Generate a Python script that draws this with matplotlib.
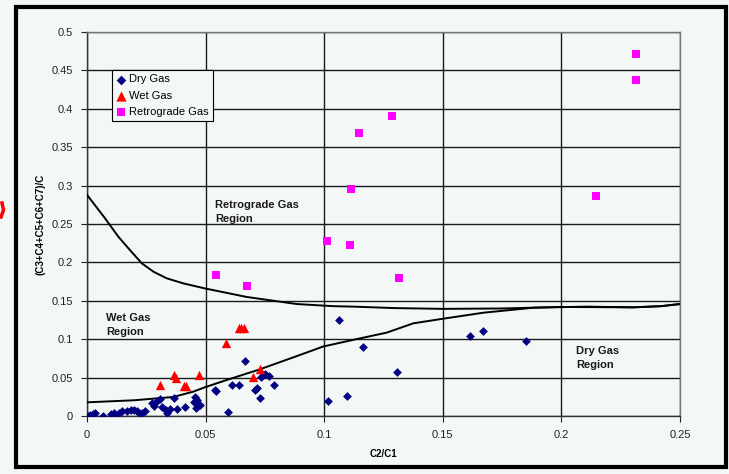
import matplotlib
matplotlib.use("Agg")
from matplotlib import pyplot as plt
from matplotlib.patches import Rectangle
from matplotlib.lines import Line2D

# dados
dry_x = [0.0004, 0.0013, 0.0024, 0.0032, 0.0069, 0.0100, 0.0108, 0.0115, 0.0136, 0.0148,
         0.0170, 0.0184, 0.0198, 0.0210, 0.0218, 0.0232, 0.0246, 0.0274, 0.0283, 0.0294,
         0.0308, 0.0316, 0.0333, 0.0339, 0.0350, 0.0367, 0.0379, 0.0414, 0.0451, 0.0457,
         0.0465, 0.0460, 0.0476, 0.0538, 0.0544, 0.0594, 0.0611, 0.0642, 0.0665, 0.0707,
         0.0716, 0.0729, 0.0732, 0.0742, 0.0752, 0.0766, 0.0788, 0.1016, 0.1062, 0.1095,
         0.1162, 0.1308, 0.1616, 0.1671, 0.1849]
dry_y = [0.0000, 0.0013, 0.0026, 0.0035, 0.0000, 0.0026, 0.0009, 0.0035, 0.0035, 0.0070,
         0.0070, 0.0078, 0.0078, 0.0060, 0.0035, 0.0043, 0.0060, 0.0165, 0.0130, 0.0190,
         0.0217, 0.0120, 0.0078, 0.0043, 0.0087, 0.0234, 0.0087, 0.0113, 0.0187, 0.0252,
         0.0208, 0.0100, 0.0139, 0.0338, 0.0321, 0.0052, 0.0408, 0.0408, 0.0712, 0.0338,
         0.0365, 0.0234, 0.0503, 0.0530, 0.0547, 0.0521, 0.0400, 0.0200, 0.1250, 0.0265,
         0.0903, 0.0569, 0.1037, 0.1103, 0.0977]

wet_x = [0.0306, 0.0365, 0.0375, 0.0409, 0.0417, 0.0474, 0.0586, 0.0640, 0.0650, 0.0662, 0.0701, 0.0729]
wet_y = [0.0400, 0.0530, 0.0490, 0.0395, 0.0395, 0.0530, 0.0946, 0.1146, 0.1146, 0.1150, 0.0512, 0.0608]

retro_x = [0.0545, 0.0673, 0.1013, 0.1107, 0.1112, 0.1147, 0.1286, 0.1314, 0.2145, 0.2315, 0.2315]
retro_y = [0.1836, 0.1697, 0.2275, 0.2222, 0.2952, 0.3680, 0.3906, 0.1793, 0.2865, 0.4375, 0.4710]

upper_x = [0, 0.0076, 0.0132, 0.0181, 0.0231, 0.0280, 0.0336, 0.0406, 0.0496, 0.0673, 0.0884,
           0.1038, 0.1123, 0.1300, 0.1500, 0.1750, 0.1994, 0.2303, 0.2420, 0.2500]
upper_y = [0.288, 0.2574, 0.2335, 0.2161, 0.1988, 0.1879, 0.1793, 0.1727, 0.1662, 0.155, 0.1458,
           0.1430, 0.1424, 0.1405, 0.1395, 0.1400, 0.1420, 0.1415, 0.1430, 0.1458]

lower_x = [0, 0.0200, 0.0364, 0.0448, 0.0496, 0.0589, 0.0729, 0.0898, 0.0996, 0.1151, 0.1263,
           0.1376, 0.1502, 0.1671, 0.1882, 0.2107, 0.2303, 0.2420, 0.2500]
lower_y = [0.0178, 0.0205, 0.0248, 0.0317, 0.0373, 0.0469, 0.0608, 0.0795, 0.0905, 0.1011, 0.1085,
           0.1207, 0.1267, 0.1345, 0.1410, 0.1424, 0.1415, 0.1430, 0.1458]

x_ticks = [0, 0.05, 0.1, 0.15, 0.2, 0.25]
x_labels = ['0', '0.05', '0.1', '0.15', '0.2', '0.25']
y_ticks = [0, 0.05, 0.1, 0.15, 0.2, 0.25, 0.3, 0.35, 0.4, 0.45, 0.5]
y_labels = ['0', '0.05', '0.1', '0.15', '0.2', '0.25', '0.3', '0.35', '0.4', '0.45', '0.5']

fundo = '#f3f8f6'
plt.rcParams['font.family'] = ['Liberation Sans', 'DejaVu Sans']

fig = plt.figure(figsize=(7.29, 4.74), dpi=100, facecolor=fundo)
ax = fig.add_axes([87 / 729, 1 - 416 / 474, 593 / 729, 384 / 474])
ax.set_facecolor(fundo)

ax.set_xlim(0, 0.25)
ax.set_ylim(0, 0.5)
ax.set_xticks(x_ticks)
ax.set_xticklabels(x_labels)
ax.set_yticks(y_ticks)
ax.set_yticklabels(y_labels)
ax.tick_params(direction='out', length=4, width=0.8, labelsize=8, colors='#222222', pad=6)
ax.grid(True, color='#1a1a1a', linewidth=1.0)
ax.set_axisbelow(True)
for lado in ['left', 'bottom']:
    ax.spines[lado].set_color('#333333')
    ax.spines[lado].set_linewidth(1.0)
for lado in ['top', 'right']:
    ax.spines[lado].set_color('#777777')
    ax.spines[lado].set_linewidth(1.0)

# curvas de fronteira
ax.plot(upper_x, upper_y, color='black', linewidth=1.4, zorder=3, solid_joinstyle='round')
ax.plot(lower_x, lower_y, color='black', linewidth=1.4, zorder=3, solid_joinstyle='round')

ax.scatter(dry_x, dry_y, marker='D', s=20, color='#000080', label='Dry Gas', zorder=4, linewidths=0)
ax.scatter(wet_x, wet_y, marker='^', s=45, color='#ff0000', label='Wet Gas', zorder=4, linewidths=0)
ax.scatter(retro_x, retro_y, marker='s', s=30, color='#ff00ff', label='Retrograde Gas', zorder=4, linewidths=0)

ax.text(0.054, 0.281, 'Retrograde Gas\nRegion', fontsize=8, fontweight='bold', color='#1a1a1a',
        va='top', ha='left', linespacing=1.45)
ax.text(0.008, 0.134, 'Wet Gas\nRegion', fontsize=8, fontweight='bold', color='#1a1a1a',
        va='top', ha='left', linespacing=1.45)
ax.text(0.2061, 0.0905, 'Dry Gas\nRegion', fontsize=8, fontweight='bold', color='#1a1a1a',
        va='top', ha='left', linespacing=1.45)

ax.set_xlabel('C2/C1', fontsize=7, fontweight='bold')
ax.set_ylabel('(C3+C4+C5+C6+C7)/C', fontsize=7, fontweight='bold')
ax.xaxis.set_label_coords(0.5, -0.085)
ax.yaxis.set_label_coords(-0.07, 0.5)

leg = ax.legend(loc='upper left', bbox_to_anchor=(0.042, 0.901), fontsize=8, frameon=True,
                fancybox=False, borderpad=0.4, labelspacing=0.55, handletextpad=0.2,
                handlelength=0.9, borderaxespad=0, scatterpoints=1, markerscale=1.1)
leg.get_frame().set_edgecolor('black')
leg.get_frame().set_linewidth(0.8)
leg.get_frame().set_facecolor(fundo)
leg.get_frame().set_alpha(1)

# moldura preta em volta
fig.patches.append(Rectangle((15.5 / 729, 1 - 467 / 474), 710 / 729, 460 / 474,
                             transform=fig.transFigure, fill=False, edgecolor='black', linewidth=3))
# pedaco vermelho cortado na borda esquerda
fig.lines.append(Line2D([2 / 729, 3.5 / 729, 1 / 729], [1 - 203 / 474, 1 - 210 / 474, 1 - 217 / 474],
                        transform=fig.transFigure, color='red', linewidth=2.5))

fig.savefig('out.png', dpi=100, facecolor=fundo)
